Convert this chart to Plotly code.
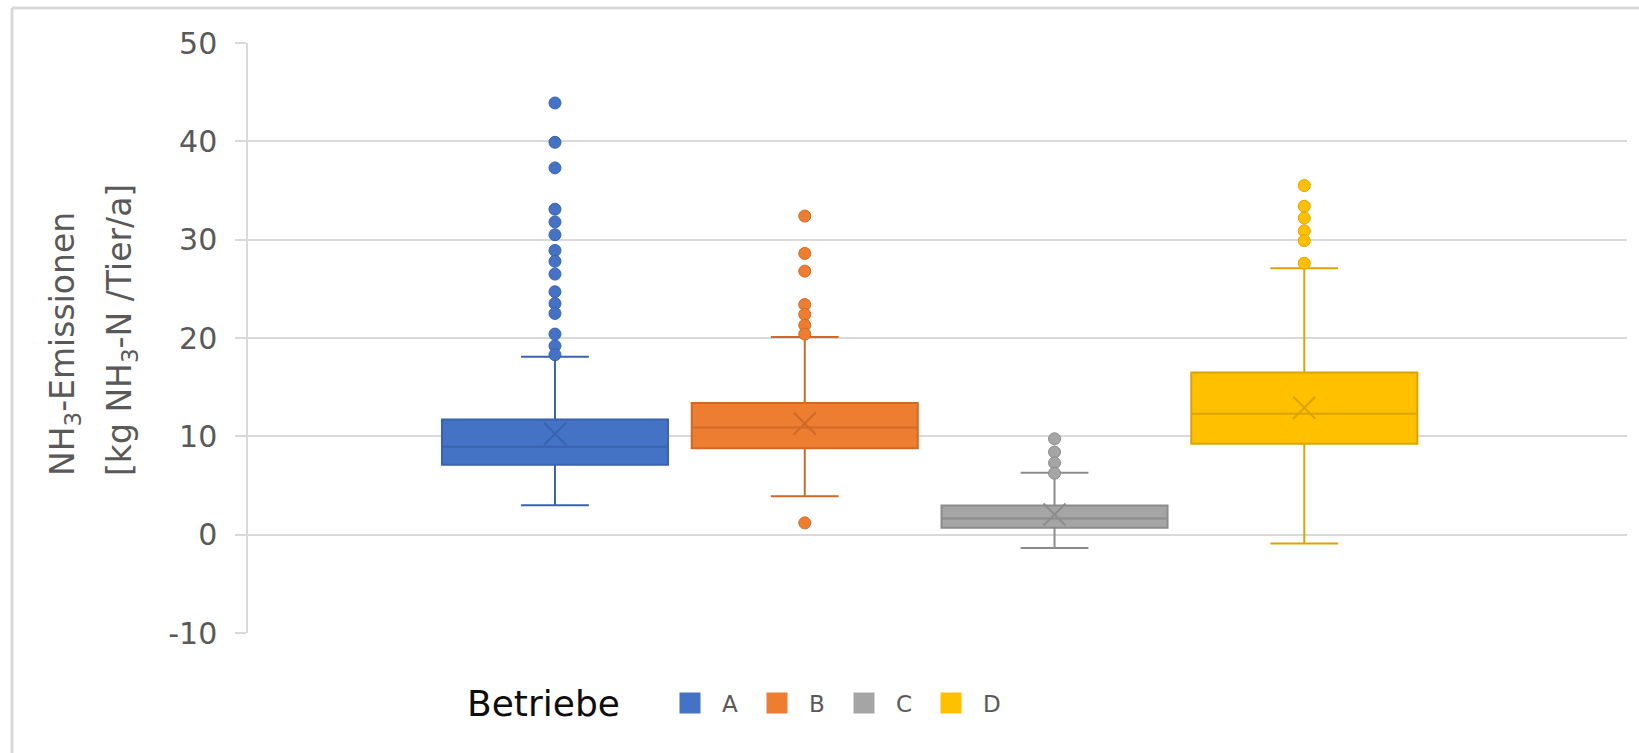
import plotly.graph_objects as go

# Betriebe (farms) and their emission statistics [kg NH3-N / Tier / a]
betriebe = ["A", "B", "C", "D"]
lower_whisker = [3.0, 3.9, -1.35, -0.9]
q1 = [7.1, 8.8, 0.7, 9.25]
median = [8.95, 10.9, 1.65, 12.3]
q3 = [11.7, 13.4, 2.97, 16.5]
upper_whisker = [18.1, 20.1, 6.3, 27.1]
mean = [10.25, 11.3, 2.05, 12.9]

outliers_a = [43.9, 39.9, 37.3, 33.1, 31.8, 30.5, 28.9, 27.8, 26.5, 24.7, 23.5, 22.5, 20.4, 19.2, 18.3]
outliers_b = [32.4, 28.6, 26.8, 23.4, 22.4, 21.3, 20.4, 1.2]
outliers_c = [9.75, 8.4, 7.3, 6.25]
outliers_d = [35.5, 33.4, 32.2, 30.9, 29.9, 27.6]
outliers = [outliers_a, outliers_b, outliers_c, outliers_d]

y_tick_values = [-10, 0, 10, 20, 30, 40, 50]
y_tick_labels = ["-10", "0", "10", "20", "30", "40", "50"]

fill_colors = ["#4472C4", "#ED7D31", "#A5A5A5", "#FFC000"]
edge_colors = ["#3A63AE", "#CF6A26", "#8C8C8C", "#DCA400"]

y_range = [-10, 50]
x_range = [-1.229, 4.292]

# pixel geometry of the plot area
W, H = 1639, 753
L, R, T, B = 248, 12, 43, 120
PW, PH = W - L - R, H - T - B


def px_x(px):
    return (px - L) / PW


def px_y(py):
    return (H - B - py) / PH


fig = go.Figure()

for i, name in enumerate(betriebe):
    fig.add_trace(go.Box(
        x=[name],
        q1=[q1[i]], median=[median[i]], q3=[q3[i]],
        lowerfence=[lower_whisker[i]], upperfence=[upper_whisker[i]],
        name=name,
        width=0.905,
        whiskerwidth=0.3,
        fillcolor=fill_colors[i],
        line=dict(color=edge_colors[i], width=2),
        showlegend=False,
        hoverinfo="skip",
    ))
    # points beyond the whiskers
    fig.add_trace(go.Scatter(
        x=[name] * len(outliers[i]), y=outliers[i],
        mode="markers",
        marker=dict(symbol="circle", size=12, color=fill_colors[i],
                    line=dict(color=edge_colors[i], width=1)),
        showlegend=False,
        hoverinfo="skip",
    ))
    # mean marker
    fig.add_trace(go.Scatter(
        x=[name], y=[mean[i]],
        mode="markers",
        marker=dict(symbol="x-thin", size=22,
                    line=dict(color=edge_colors[i], width=2)),
        showlegend=False,
        hoverinfo="skip",
    ))

# legend entries
for i, name in enumerate(betriebe):
    fig.add_trace(go.Scatter(
        x=[None], y=[None],
        mode="markers",
        name=name,
        marker=dict(symbol="square", size=16, color=fill_colors[i],
                    line=dict(color=fill_colors[i], width=5)),
    ))

fig.update_layout(
    width=W, height=H,
    margin=dict(l=L, r=R, t=T, b=B, pad=0),
    paper_bgcolor="white",
    plot_bgcolor="white",
    boxmode="overlay",
    font=dict(family="DejaVu Sans", color="#595959"),
    xaxis=dict(
        type="category",
        categoryorder="array", categoryarray=betriebe,
        range=x_range,
        showticklabels=False, showgrid=False, zeroline=False, showline=False,
        ticks="",
    ),
    yaxis=dict(
        range=y_range,
        tickmode="array", tickvals=y_tick_values, ticktext=y_tick_labels,
        showgrid=True, gridcolor="#D9D9D9", gridwidth=1.5,
        zeroline=False,
        showline=True, linecolor="#D9D9D9", linewidth=1.5,
        ticks="outside", ticklen=11, tickcolor="#D9D9D9", tickwidth=1.5,
        ticklabelstandoff=12,
        tickfont=dict(family="DejaVu Sans", size=30, color="#595959"),
    ),
    legend=dict(
        orientation="h",
        x=px_x(658), xanchor="left",
        y=px_y(703), yanchor="middle",
        font=dict(family="DejaVu Sans", size=23, color="#595959"),
        itemsizing="trace",
        itemwidth=54,
        entrywidth=18,
        bgcolor="rgba(0,0,0,0)",
    ),
    showlegend=True,
)

# legend heading
fig.add_annotation(
    text="Betriebe",
    xref="paper", yref="paper",
    x=px_x(465), y=px_y(703),
    xanchor="left", yanchor="middle",
    showarrow=False,
    font=dict(family="DejaVu Sans", size=36, color="#0D0D0D"),
)

# y-axis title, two lines
title_font = dict(family="DejaVu Sans", size=33, color="#595959")
fig.add_annotation(
    text="NH<sub>3</sub>-Emissionen",
    xref="paper", yref="paper",
    x=px_x(64), y=px_y(478),
    xanchor="center", yanchor="bottom",
    textangle=-90, showarrow=False, font=title_font,
)
fig.add_annotation(
    text="[kg NH<sub>3</sub>-N /Tier/a]",
    xref="paper", yref="paper",
    x=px_x(121), y=px_y(478),
    xanchor="center", yanchor="bottom",
    textangle=-90, showarrow=False, font=title_font,
)

# chart frame (top and left edges)
frame = dict(color="#D9D9D9", width=3)
fig.add_shape(type="line", xref="paper", yref="paper",
              x0=px_x(12), x1=px_x(W), y0=px_y(8), y1=px_y(8), line=frame)
fig.add_shape(type="line", xref="paper", yref="paper",
              x0=px_x(12), x1=px_x(12), y0=px_y(8), y1=px_y(H), line=frame)

fig.write_html("out.html")
